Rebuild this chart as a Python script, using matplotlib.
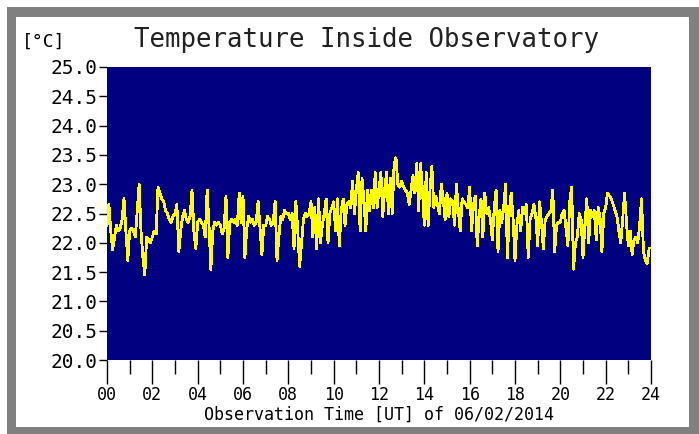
import numpy as np
import matplotlib
matplotlib.use('Agg')
import matplotlib.pyplot as plt
from matplotlib.patches import Rectangle
from matplotlib.ticker import MultipleLocator, FixedLocator

# 5-minute readings, one row per hour (00 UT .. 23 UT)
temp_by_hour = [
    [22.30, 22.65, 22.20, 21.88, 22.10, 22.30, 22.20, 22.25, 22.40, 22.75, 22.20, 21.70],
    [22.20, 22.25, 22.20, 22.10, 22.55, 23.00, 22.20, 21.75, 21.45, 22.10, 22.05, 22.00],
    [22.10, 22.20, 22.15, 22.95, 22.85, 22.75, 22.70, 22.55, 22.50, 22.40, 22.35, 22.45],
    [22.50, 22.65, 21.85, 22.20, 22.45, 22.55, 22.40, 22.35, 22.45, 22.90, 22.20, 21.90],
    [22.35, 22.40, 22.35, 22.30, 22.10, 22.90, 22.30, 21.55, 22.20, 22.35, 22.30, 22.35],
    [22.30, 22.15, 22.25, 22.80, 21.75, 22.35, 22.40, 22.35, 22.40, 22.30, 22.85, 22.35],
    [22.80, 21.75, 22.25, 22.45, 22.35, 22.40, 22.30, 22.35, 22.70, 22.25, 21.80, 22.30],
    [22.30, 22.45, 22.40, 22.30, 22.35, 22.70, 21.70, 22.10, 22.45, 22.40, 22.55, 22.50],
    [22.50, 22.40, 22.50, 21.90, 22.70, 22.20, 21.60, 22.00, 22.40, 22.50, 22.45, 22.50],
    [22.70, 22.10, 22.60, 21.90, 22.75, 22.00, 22.30, 22.50, 22.75, 22.00, 22.50, 22.60],
    [22.70, 22.20, 22.75, 21.95, 22.55, 22.75, 22.30, 22.65, 22.70, 22.60, 23.05, 22.50],
    [22.90, 23.20, 22.20, 23.10, 22.75, 22.20, 22.90, 22.55, 22.90, 22.60, 23.20, 22.60],
    [22.90, 23.20, 22.45, 22.90, 23.20, 22.50, 23.10, 22.50, 23.35, 23.45, 23.00, 22.95],
    [23.05, 22.95, 22.90, 22.85, 22.65, 22.90, 23.15, 22.85, 23.35, 22.55, 23.35, 22.90],
    [22.30, 23.20, 22.30, 22.90, 23.30, 22.60, 22.80, 22.65, 22.50, 23.00, 22.75, 22.40],
    [22.85, 22.45, 22.75, 22.70, 22.30, 23.00, 22.55, 22.20, 22.75, 22.70, 22.65, 22.60],
    [22.95, 22.20, 22.65, 22.80, 21.95, 22.45, 22.75, 22.10, 22.85, 22.50, 22.60, 22.40],
    [22.05, 22.60, 22.90, 21.85, 22.55, 22.35, 22.60, 23.00, 21.75, 22.55, 22.85, 22.40],
    [21.70, 22.30, 22.55, 22.20, 22.60, 22.50, 22.65, 21.75, 22.40, 22.50, 22.65, 22.45],
    [21.95, 22.70, 22.35, 21.90, 22.40, 22.45, 22.50, 22.55, 22.90, 21.85, 22.30, 22.35],
    [22.35, 22.50, 22.55, 22.25, 21.95, 22.70, 22.95, 21.55, 22.00, 22.10, 22.50, 22.40],
    [21.75, 22.30, 22.75, 22.00, 22.55, 22.45, 22.55, 22.05, 22.60, 22.45, 21.85, 22.50],
    [22.60, 22.85, 22.80, 22.75, 22.65, 22.55, 22.45, 22.20, 22.00, 22.40, 22.85, 22.35],
    [21.95, 22.20, 21.80, 22.05, 22.10, 22.00, 22.30, 22.75, 21.85, 21.70, 21.65, 21.90],
]
hour_labels = ['00', '02', '04', '06', '08', '10', '12', '14', '16', '18', '20', '22', '24']

temp = np.concatenate(temp_by_hour)
hours = np.arange(len(temp)) * 5 / 60.0

W, H = 699, 434
fig = plt.figure(figsize=(W / 100, H / 100), dpi=100)
fig.patch.set_facecolor('white')

def px(x0, y0, x1, y1):
    # pixel box (top-left origin) -> figure fraction rect
    return (x0 / W, 1 - y1 / H, (x1 - x0) / W, (y1 - y0) / H)

# grey frame around the picture
for box in [(7, 7, 699, 17), (7, 427, 699, 434), (7, 7, 16, 434), (689, 7, 699, 434)]:
    l, b, w, h = px(*box)
    fig.patches.append(Rectangle((l, b), w, h, transform=fig.transFigure,
                                 facecolor='#808080', edgecolor='none'))

ax = fig.add_axes(px(107, 67, 651, 360))
ax.set_facecolor('#000080')
ax.plot(hours, temp, color='#ffff00', lw=1.3, antialiased=False)

ax.set_xlim(0, 24)
ax.set_ylim(20, 25)
ax.yaxis.set_major_locator(MultipleLocator(0.5))
ax.yaxis.set_major_formatter(lambda v, p: f'{v:.1f}')
ax.xaxis.set_major_locator(FixedLocator(range(0, 25, 2)))
ax.xaxis.set_major_formatter(lambda v, p: hour_labels[int(round(v)) // 2])
ax.xaxis.set_minor_locator(FixedLocator(range(1, 24, 2)))

mono = 'DejaVu Sans Mono'
ax.tick_params(axis='y', length=6, width=1, pad=1, labelsize=14, color='black')
ax.tick_params(axis='x', which='major', length=17, width=1, pad=2, labelsize=12)
ax.tick_params(axis='x', which='minor', length=10, width=1)
for lab in ax.get_xticklabels() + ax.get_yticklabels():
    lab.set_family(mono)
for s in ax.spines.values():
    s.set_visible(False)

ax.set_xlabel('Observation Time [UT] of 06/02/2014', family=mono, fontsize=12, labelpad=1)
fig.text(22 / W, 1 - 47 / H, '[°C]', family=mono, fontsize=13, va='baseline', ha='left')
fig.text(367 / W, 1 - 47 / H, 'Temperature Inside Observatory', family=mono,
         fontsize=18.5, va='baseline', ha='center', color='#222222')

fig.savefig('out.png', dpi=100)
